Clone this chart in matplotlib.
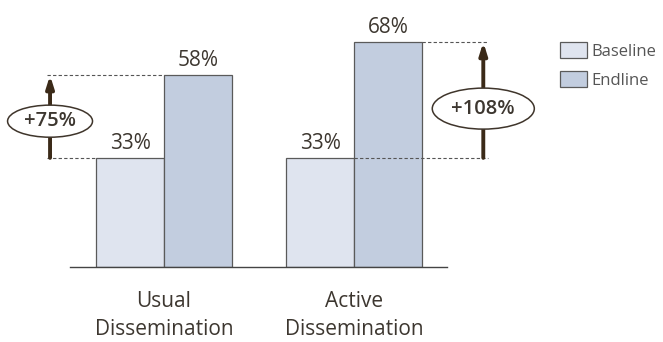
import matplotlib
matplotlib.use("Agg")
import matplotlib.pyplot as plt
from matplotlib.patches import Ellipse
import numpy as np

categories = ["Usual\nDissemination", "Active\nDissemination"]
baseline = [33, 33]
endline = [58, 68]
changes = ["+75%", "+108%"]
series_names = ["Baseline", "Endline"]

plt.rcParams["font.family"] = ["Open Sans", "DejaVu Sans"]

TEXT = "#3d3730"
ARROW = "#3b2a18"
EDGE = "#5a5a5a"
C_BASE = "#dfe4ef"
C_END = "#c2cddf"

fig = plt.figure(figsize=(6.63, 3.42), dpi=100)
ax = fig.add_axes([70 / 663, 75 / 342, 377 / 663, 248 / 342])

x = np.arange(len(categories))
w = 0.358
b1 = ax.bar(x - w / 2, baseline, w, color=C_BASE, edgecolor=EDGE, linewidth=0.9, label=series_names[0])
b2 = ax.bar(x + w / 2, endline, w, color=C_END, edgecolor=EDGE, linewidth=0.9, label=series_names[1])

ax.set_xlim(-0.495, 1.489)
ax.set_ylim(0, 75)
for s in ["top", "left", "right"]:
    ax.spines[s].set_visible(False)
ax.spines["bottom"].set_color("#444444")
ax.spines["bottom"].set_linewidth(1.0)
ax.set_yticks([])
ax.set_xticks(x)
ax.set_xticklabels(categories, fontsize=15, color=TEXT, linespacing=1.45)
ax.tick_params(axis="x", length=0, pad=17)

# value labels
for bars, vals in [(b1, baseline), (b2, endline)]:
    for rect, v in zip(bars, vals):
        ax.annotate(f"{v}%", (rect.get_x() + rect.get_width() / 2, v),
                    xytext=(0, 3), textcoords="offset points",
                    ha="center", va="bottom", fontsize=15, color=TEXT)

dash = dict(color="#555555", linewidth=0.8, linestyle=(0, (3, 2)), clip_on=False)

# usual dissemination: bracket on the left
ax_x = -0.6
ax.plot([-0.615, x[0] - w], [baseline[0]] * 2, **dash)
ax.plot([-0.615, x[0]], [endline[0]] * 2, **dash)

# active dissemination: bracket on the right
ax_x2 = 1.68
ax.plot([x[1], 1.705], [baseline[1]] * 2, **dash)
ax.plot([x[1] + w, 1.705], [endline[1]] * 2, **dash)

label_y = [44.1, 47.9]
ell_size = [(0.447, 9.7), (0.537, 12.4)]
for i, ax_xx in enumerate([ax_x, ax_x2]):
    ax.annotate("", xy=(ax_xx, endline[i]), xytext=(ax_xx, baseline[i]),
                arrowprops=dict(arrowstyle="-|>,head_length=0.7,head_width=0.22",
                                color=ARROW, lw=2.8, shrinkA=0, shrinkB=0),
                annotation_clip=False)
    e = Ellipse((ax_xx, label_y[i]), ell_size[i][0], ell_size[i][1],
                facecolor="white", edgecolor="#3f352b", linewidth=1.1,
                clip_on=False, zorder=5)
    ax.add_patch(e)
    ax.text(ax_xx, label_y[i], changes[i], ha="center", va="center",
            fontsize=14.5, fontweight="semibold", color=TEXT, zorder=6)

leg = fig.legend(handles=[b1, b2], loc="upper left", bbox_to_anchor=(560 / 663, 1 - 42 / 342),
                 frameon=False, fontsize=12, handlelength=1.6, handleheight=1.1,
                 handletextpad=0.3, labelspacing=0.7, borderpad=0, borderaxespad=0)
for t in leg.get_texts():
    t.set_color("#555555")

fig.savefig("out.png", dpi=100)
